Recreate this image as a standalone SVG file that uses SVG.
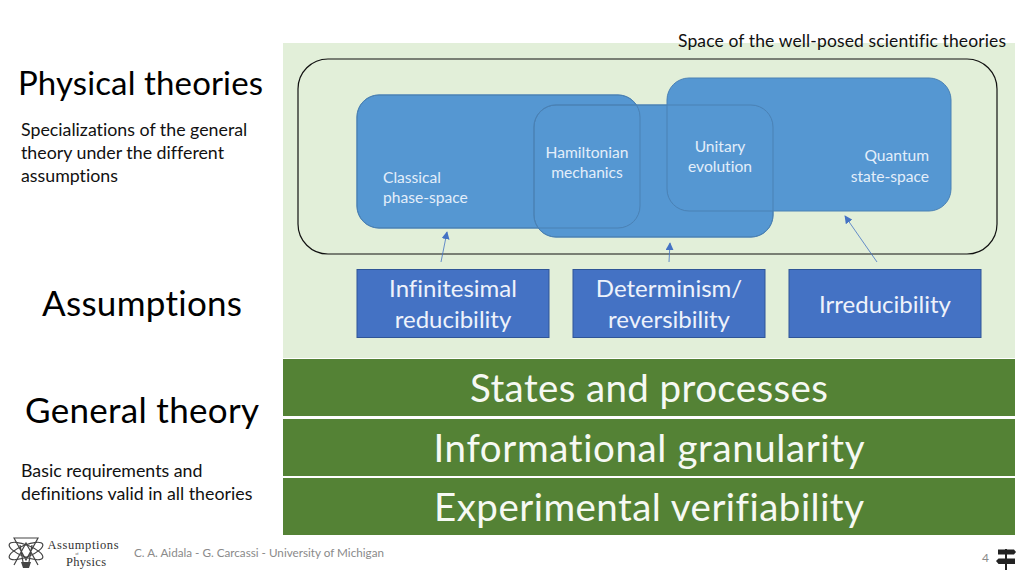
<svg xmlns="http://www.w3.org/2000/svg" width="1024" height="576" viewBox="0 0 1024 576">
<style>
text{font-family:"Lato","Liberation Sans",sans-serif;font-variant-ligatures:none}
.h{fill:#000}
.b{font-size:17.800px;fill:#111}
.s{font-size:15.600px;fill:#e3eefa}
.a{font-size:24px;fill:#eef2fb;text-anchor:middle}
.g{font-size:38.500px;fill:#f6f9f3;text-anchor:middle}
.r{fill:#5597d2;stroke:#4a81b4;stroke-width:1}
.o{fill:none;stroke:#4a81b4;stroke-width:1}
.as{fill:#4472c4;stroke:#2f5597;stroke-width:1}
.bar{fill:#548235}
.c{stroke:#4472c4;stroke-width:.8;fill:none;marker-end:url(#m)}
.lg{fill:none;stroke:#444;stroke-width:1.200}
.lt{font-family:"Liberation Serif",serif;fill:#333}
</style>
<defs><marker id="m" viewBox="0 0 10 10" refX="9" refY="5" markerWidth="8" markerHeight="8" markerUnits="userSpaceOnUse" orient="auto"><path d="M0 0L10 5L0 10Z" fill="#4472c4"/></marker></defs>
<rect width="1024" height="576" fill="#fff"/>
<rect x="283" y="43" width="732" height="315" fill="#e2efd9"/>
<text x="678" y="47" style="font-size:17.500px" fill="#111" textLength="328">Space of the well-posed scientific theories</text>
<g id="space"><rect x="298" y="59" width="699" height="195" rx="30" fill="none" stroke="#111" stroke-width="1.200"/></g>
<g id="classical"><rect class="r" x="357" y="95" width="283" height="133" rx="22"/><text class="s" x="383" y="183">Classical</text><text class="s" x="383" y="203">phase-space</text></g>
<g id="hamiltonian"><rect class="r" x="534" y="105" width="239" height="132" rx="22"/><text class="s" x="587" y="157.500" text-anchor="middle">Hamiltonian</text><text class="s" x="587" y="178" text-anchor="middle">mechanics</text></g>
<g id="quantum"><rect class="r" x="667" y="78" width="284" height="133" rx="22"/><text class="s" x="720" y="152" text-anchor="middle">Unitary</text><text class="s" x="720" y="172" text-anchor="middle">evolution</text><text class="s" x="929" y="161" text-anchor="end">Quantum</text><text class="s" x="929" y="182" text-anchor="end">state-space</text></g>
<g id="overlap"><rect class="o" x="534" y="105" width="239" height="132" rx="22"/><rect class="o" x="357" y="95" width="283" height="133" rx="22"/></g>
<g id="connectors"><path class="c" d="M441 262L447 232"/><path class="c" d="M669 262L670 243"/><path class="c" d="M877 262L845 216"/></g>
<g id="a1"><rect class="as" x="357" y="269.500" width="192" height="68"/><text class="a" x="453" y="297">Infinitesimal</text><text class="a" x="453" y="328">reducibility</text></g>
<g id="a2"><rect class="as" x="573" y="269.500" width="192" height="68"/><text class="a" x="669" y="297">Determinism/</text><text class="a" x="669" y="328">reversibility</text></g>
<g id="a3"><rect class="as" x="789" y="269.500" width="192" height="68"/><text class="a" x="885" y="313">Irreducibility</text></g>
<g id="g1"><rect class="bar" x="283" y="359" width="732" height="57"/><text class="g" x="649" y="402" textLength="358">States and processes</text></g>
<g id="g2"><rect class="bar" x="283" y="419" width="732" height="57"/><text class="g" x="649" y="462" textLength="431">Informational granularity</text></g>
<g id="g3"><rect class="bar" x="283" y="478" width="732" height="57"/><text class="g" x="649" y="521" textLength="430">Experimental verifiability</text></g>
<text class="h" x="18" y="95" style="font-size:33px" textLength="245">Physical theories</text>
<text class="b" x="21" y="136">Specializations of the general</text>
<text class="b" x="21" y="159">theory under the different</text>
<text class="b" x="21" y="182">assumptions</text>
<text class="h" x="42" y="316" style="font-size:35px" textLength="200">Assumptions</text>
<text class="h" x="25" y="423" style="font-size:35px" textLength="234">General theory</text>
<text class="b" x="21" y="477">Basic requirements and</text>
<text class="b" x="21" y="500">definitions valid in all theories</text>
<g id="logo"><g class="lg"><ellipse cx="26" cy="551" rx="18" ry="6" transform="rotate(22 26 551)"/><ellipse cx="26" cy="551" rx="18" ry="6" transform="rotate(-22 26 551)"/><path d="M14 538L26 560L38 538ZM14 565L26 543L38 565M20 545L23 562M32 545L29 562"/></g><path d="M21 562H31L29 568H23Z" fill="#444"/>
<text class="lt" x="83" y="549" text-anchor="middle" style="font-size:12.500px" textLength="71">Assumptions</text><text class="lt" x="77" y="555" text-anchor="middle" style="font-size:3.500px">of</text><text class="lt" x="86" y="566" text-anchor="middle" style="font-size:12.500px" textLength="40">Physics</text></g>
<text x="134" y="557" style="font-size:11.700px" fill="#8a8a8a">C. A. Aidala - G. Carcassi - University of Michigan</text>
<text x="982" y="562" style="font-size:12px" fill="#8a8a8a">4</text>
<g id="sign" fill="#222"><rect x="1005" y="549" width="2" height="21"/><path d="M998 549.500H1014L1016 552L1014 554.500H998Z"/><path d="M998.500 558.500H1015V564H998.500L996 561Z"/></g>
</svg>
